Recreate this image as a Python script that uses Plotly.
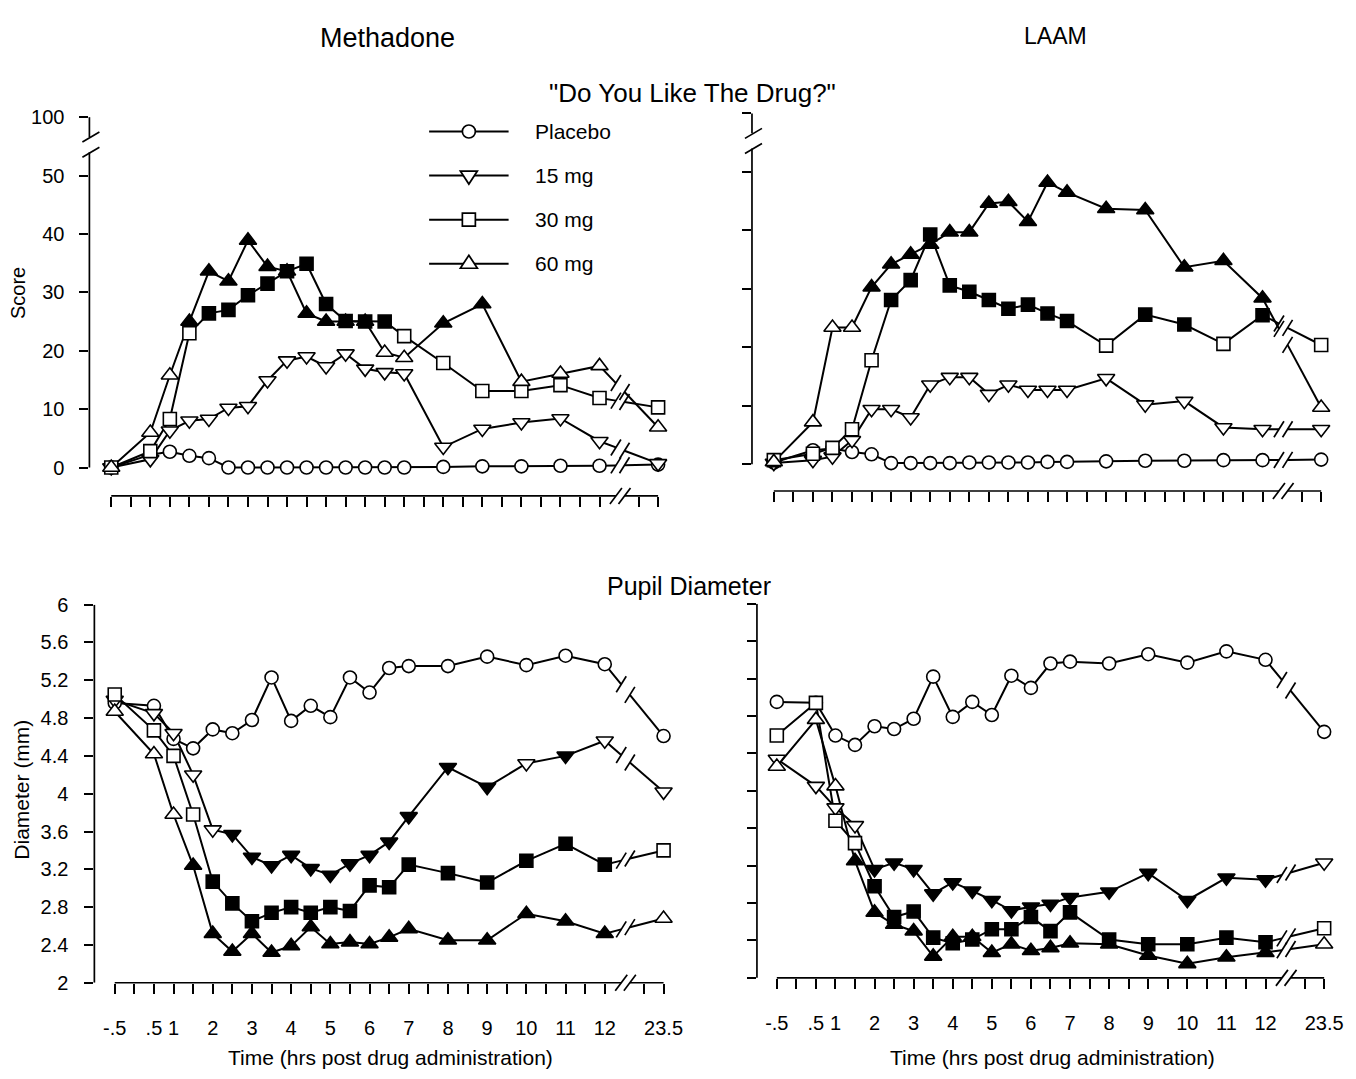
import plotly.graph_objects as go

W, H = 1356, 1079
FONT = "Liberation Sans, Arial, sans-serif"

# ---------------- data ----------------
TIMES = [-0.5, 0.5, 1, 1.5, 2, 2.5, 3, 3.5, 4, 4.5, 5, 5.5, 6, 6.5, 7, 8, 9, 10, 11, 12, 23.5]
TICK_TIMES = [-0.5, 0, 0.5, 1, 1.5, 2, 2.5, 3, 3.5, 4, 4.5, 5, 5.5, 6, 6.5, 7, 7.5,
              8, 8.5, 9, 9.5, 10, 10.5, 11, 11.5, 12, 23, 23.5]
TICK_LABELS = {-0.5: "-.5", 0.5: ".5", 1: "1", 2: "2", 3: "3", 4: "4", 5: "5", 6: "6",
               7: "7", 8: "8", 9: "9", 10: "10", 11: "11", 12: "12", 23.5: "23.5"}

SCORE_TICKS = [0, 10, 20, 30, 40, 50, 60]
SCORE_LABELS = ["0", "10", "20", "30", "40", "50", "100"]
DIAM_TICKS = [2, 2.4, 2.8, 3.2, 3.6, 4, 4.4, 4.8, 5.2, 5.6, 6]
DIAM_LABELS = ["2", "2.4", "2.8", "3.2", "3.6", "4", "4.4", "4.8", "5.2", "5.6", "6"]

SERIES = ["Placebo", "15 mg", "30 mg", "60 mg"]

# Methadone - "Do you like the drug?"
meth_like_placebo = [0, 2.2, 2.7, 2.0, 1.6, 0, 0, 0, 0, 0, 0, 0, 0, 0, 0, 0.1, 0.2, 0.2, 0.3, 0.3, 0.5]
meth_like_15 = [0, 1.4, 6.3, 8.0, 8.3, 10.2, 10.5, 14.9, 18.3, 19.0, 17.3, 19.5, 16.9, 16.3, 16.1, 3.5, 6.6, 7.7, 8.4, 4.5, 0.7]
meth_like_30 = [0, 2.8, 8.3, 23.0, 26.4, 27.0, 29.5, 31.5, 33.6, 34.9, 28.0, 25.1, 25.0, 25.0, 22.5, 17.9, 13.1, 13.1, 14.1, 11.9, 10.3]
meth_like_60 = [0, 6.0, 15.8, 25.0, 33.6, 31.9, 38.9, 34.4, 33.6, 26.4, 25.0, 25.0, 25.0, 19.7, 18.8, 24.7, 28.0, 14.7, 16.1, 17.4, 6.9]
meth_like_placebo_f = [0] * 21
meth_like_15_f = [0] * 21
meth_like_30_f = [0, 0, 0, 0, 1, 1, 1, 1, 1, 1, 1, 1, 1, 1, 0, 0, 0, 0, 0, 0, 0]
meth_like_60_f = [0, 0, 0, 1, 1, 1, 1, 1, 1, 1, 1, 1, 1, 0, 0, 1, 1, 0, 0, 0, 0]

# LAAM - "Do you like the drug?"
laam_like_placebo = [0.3, 2.4, 2.7, 2.1, 1.7, 0.2, 0.2, 0.2, 0.2, 0.3, 0.3, 0.3, 0.3, 0.4, 0.4, 0.5, 0.6, 0.6, 0.7, 0.7, 0.8]
laam_like_15 = [0.2, 0.7, 1.3, 4.1, 9.4, 9.4, 8.0, 13.6, 14.9, 14.9, 12.0, 13.6, 12.7, 12.7, 12.7, 14.7, 10.2, 10.8, 6.3, 6.0, 6.0]
laam_like_30 = [0.7, 1.8, 2.8, 6.0, 17.8, 28.1, 31.5, 39.3, 30.6, 29.5, 28.1, 26.6, 27.3, 25.8, 24.5, 20.3, 25.6, 23.9, 20.6, 25.5, 20.4]
laam_like_60 = [0.4, 7.2, 23.4, 23.4, 30.3, 34.2, 35.9, 37.6, 39.7, 39.7, 44.6, 44.9, 41.5, 48.2, 46.5, 43.7, 43.5, 33.7, 34.8, 28.4, 9.7]
laam_like_placebo_f = [0] * 21
laam_like_15_f = [0] * 21
laam_like_30_f = [0, 0, 0, 0, 0, 1, 1, 1, 1, 1, 1, 1, 1, 1, 1, 0, 1, 1, 0, 1, 0]
laam_like_60_f = [0, 0, 0, 0, 1, 1, 1, 1, 1, 1, 1, 1, 1, 1, 1, 1, 1, 1, 1, 1, 0]

# Methadone - pupil diameter (mm)
meth_pup_placebo = [4.96, 4.93, 4.58, 4.48, 4.68, 4.64, 4.78, 5.23, 4.77, 4.93, 4.81, 5.23, 5.07, 5.33, 5.35, 5.35, 5.45, 5.36, 5.46, 5.37, 4.61]
meth_pup_15 = [4.99, 4.85, 4.64, 4.20, 3.62, 3.57, 3.33, 3.24, 3.35, 3.21, 3.14, 3.26, 3.35, 3.49, 3.76, 4.28, 4.07, 4.32, 4.40, 4.56, 4.02]
meth_pup_30 = [5.05, 4.67, 4.40, 3.78, 3.07, 2.84, 2.65, 2.74, 2.80, 2.74, 2.80, 2.76, 3.03, 3.01, 3.25, 3.16, 3.06, 3.29, 3.47, 3.25, 3.40]
meth_pup_60 = [4.87, 4.42, 3.78, 3.24, 2.52, 2.33, 2.52, 2.32, 2.39, 2.59, 2.41, 2.43, 2.41, 2.48, 2.57, 2.45, 2.45, 2.73, 2.65, 2.52, 2.68]
meth_pup_placebo_f = [0] * 21
meth_pup_15_f = [0, 0, 0, 0, 0, 1, 1, 1, 1, 1, 1, 1, 1, 1, 1, 1, 1, 0, 1, 0, 0]
meth_pup_30_f = [0, 0, 0, 0, 1, 1, 1, 1, 1, 1, 1, 1, 1, 1, 1, 1, 1, 1, 1, 1, 0]
meth_pup_60_f = [0, 0, 0, 1, 1, 1, 1, 1, 1, 1, 1, 1, 1, 1, 1, 1, 1, 1, 1, 1, 0]

# LAAM - pupil diameter (mm)
laam_pup_placebo = [4.95, 4.94, 4.59, 4.49, 4.69, 4.66, 4.77, 5.22, 4.79, 4.95, 4.81, 5.23, 5.10, 5.36, 5.38, 5.36, 5.46, 5.37, 5.49, 5.40, 4.63]
laam_pup_15 = [4.34, 4.05, 3.82, 3.63, 3.16, 3.23, 3.16, 2.90, 3.02, 2.93, 2.83, 2.72, 2.76, 2.79, 2.86, 2.92, 3.12, 2.83, 3.07, 3.05, 3.23]
laam_pup_30 = [4.59, 4.94, 3.68, 3.44, 2.98, 2.65, 2.71, 2.43, 2.37, 2.41, 2.52, 2.52, 2.65, 2.50, 2.70, 2.41, 2.36, 2.36, 2.43, 2.38, 2.53]
laam_pup_60 = [4.26, 4.76, 4.05, 3.25, 2.70, 2.57, 2.50, 2.23, 2.44, 2.44, 2.27, 2.36, 2.29, 2.32, 2.37, 2.36, 2.24, 2.15, 2.22, 2.27, 2.36]
laam_pup_placebo_f = [0] * 21
laam_pup_15_f = [0, 0, 0, 0, 1, 1, 1, 1, 1, 1, 1, 1, 1, 1, 1, 1, 1, 1, 1, 1, 0]
laam_pup_30_f = [0, 0, 0, 0, 1, 1, 1, 1, 1, 1, 1, 1, 1, 1, 1, 1, 1, 1, 1, 1, 0]
laam_pup_60_f = [0, 0, 0, 1, 1, 1, 1, 1, 1, 1, 1, 1, 1, 1, 1, 1, 1, 1, 1, 1, 0]

# ---------------- styling ----------------
SYMBOLS = ["circle", "triangle-down", "square", "triangle-up"]
SIZES = [13, 15, 13, 15]
BREAK1, BREAK2 = 12.42, 12.64
TICKFONT = dict(family=FONT, size=20, color="black")


def pos(t):
    """Axis position: linear to 12 h, then a compressed break before 23-23.5 h."""
    return t if t <= 12 else t - 10


panels = [
    dict(key="", kind="score", left=True, bottom=False, ax_px=90, first_px=112, last_px=662.5,
         right_px=673, top_py=95, bottom_py=495, zero_py=466, scale=5.96,
         data=[meth_like_placebo, meth_like_15, meth_like_30, meth_like_60],
         flags=[meth_like_placebo_f, meth_like_15_f, meth_like_30_f, meth_like_60_f]),
    dict(key="2", kind="score", left=False, bottom=False, ax_px=757, first_px=779, last_px=1330,
         right_px=1340, top_py=95, bottom_py=490, zero_py=462.7, scale=5.968,
         data=[laam_like_placebo, laam_like_15, laam_like_30, laam_like_60],
         flags=[laam_like_placebo_f, laam_like_15_f, laam_like_30_f, laam_like_60_f]),
    dict(key="3", kind="pupil", left=True, bottom=True, ax_px=95, first_px=115.5, last_px=668,
         right_px=678, top_py=606, bottom_py=992,
         data=[meth_pup_placebo, meth_pup_15, meth_pup_30, meth_pup_60],
         flags=[meth_pup_placebo_f, meth_pup_15_f, meth_pup_30_f, meth_pup_60_f]),
    dict(key="4", kind="pupil", left=False, bottom=True, ax_px=762, first_px=782, last_px=1333,
         right_px=1343, top_py=605, bottom_py=987,
         data=[laam_pup_placebo, laam_pup_15, laam_pup_30, laam_pup_60],
         flags=[laam_pup_placebo_f, laam_pup_15_f, laam_pup_30_f, laam_pup_60_f]),
]

fig = go.Figure()
shapes = []
BL = dict(color="black", width=1.7)

for p in panels:
    k = p["key"]
    xa, ya = "x" + k, "y" + k
    slope = (p["last_px"] - p["first_px"]) / (pos(23.5) - pos(-0.5))
    xl = pos(-0.5) - (p["first_px"] - p["ax_px"]) / slope
    xr = pos(23.5) + (p["right_px"] - p["last_px"]) / slope
    if p["kind"] == "score":
        yr = [-(p["bottom_py"] - p["zero_py"]) / p["scale"], (p["zero_py"] - p["top_py"]) / p["scale"]]
        ytv, ytt = SCORE_TICKS, SCORE_LABELS
        ystand = 11
    else:
        yr = [2, 6]
        ytv, ytt = DIAM_TICKS, DIAM_LABELS
        ystand = 12

    xaxis = dict(domain=[p["ax_px"] / W, p["right_px"] / W], range=[xl, xr], anchor=ya,
                 showline=False, zeroline=False, showgrid=False, ticks="outside", ticklen=10,
                 tickwidth=1.7, tickcolor="black",
                 tickvals=[pos(t) for t in TICK_TIMES],
                 ticktext=[TICK_LABELS.get(t, "") for t in TICK_TIMES],
                 showticklabels=p["bottom"], ticklabelstandoff=17,
                 tickfont=TICKFONT, fixedrange=True)
    yaxis = dict(domain=[1 - p["bottom_py"] / H, 1 - p["top_py"] / H], range=yr, anchor=xa,
                 showline=False, zeroline=False, showgrid=False, ticks="outside", ticklen=9,
                 tickwidth=1.7, tickcolor="black", tickvals=ytv, ticktext=ytt,
                 showticklabels=p["left"], ticklabelstandoff=ystand,
                 tickfont=TICKFONT, fixedrange=True)
    fig.update_layout(**{"xaxis" + k: xaxis, "yaxis" + k: yaxis})

    # ---- axis lines with breaks ----
    yb_paper = 1 - p["bottom_py"] / H
    xax_paper = p["ax_px"] / W
    shapes.append(dict(type="line", xref=xa, yref="paper", x0=pos(-0.5), x1=BREAK1,
                       y0=yb_paper, y1=yb_paper, line=BL))
    shapes.append(dict(type="line", xref=xa, yref="paper", x0=BREAK2, x1=pos(23.5),
                       y0=yb_paper, y1=yb_paper, line=BL))
    for xb in (BREAK1, BREAK2):
        shapes.append(dict(type="line", xref=xa, yref="paper", xsizemode="pixel",
                           ysizemode="pixel", xanchor=xb, yanchor=yb_paper,
                           x0=-6, x1=6, y0=-8, y1=8, line=BL))
    if p["kind"] == "score":
        shapes.append(dict(type="line", xref="paper", yref=ya, x0=xax_paper, x1=xax_paper,
                           y0=0, y1=54.0, line=BL))
        shapes.append(dict(type="line", xref="paper", yref=ya, x0=xax_paper, x1=xax_paper,
                           y0=56.6, y1=60, line=BL))
        for yb in (54.0, 56.6):
            shapes.append(dict(type="line", xref="paper", yref=ya, xsizemode="pixel",
                               ysizemode="pixel", xanchor=xax_paper, yanchor=yb,
                               x0=-7, x1=10, y0=-5, y1=5, line=BL))
    else:
        shapes.append(dict(type="line", xref="paper", yref=ya, x0=xax_paper, x1=xax_paper,
                           y0=2, y1=6, line=BL))

    # ---- series ----
    xs = [pos(t) for t in TIMES]
    i12 = TIMES.index(12)
    for ys in p["data"]:
        y12, ylast = ys[i12], ys[-1]

        def interp(xb, y12=y12, ylast=ylast):
            return y12 + (ylast - y12) * (xb - pos(12)) / (pos(23.5) - pos(12))

        lx = xs[: i12 + 1] + [BREAK1, None, BREAK2, xs[-1]]
        ly = ys[: i12 + 1] + [interp(BREAK1), None, interp(BREAK2), ylast]
        fig.add_trace(go.Scatter(x=lx, y=ly, mode="lines", line=dict(color="black", width=2),
                                 xaxis=xa, yaxis=ya, showlegend=False, hoverinfo="skip",
                                 connectgaps=False))
        for xb in (BREAK1, BREAK2):
            shapes.append(dict(type="line", xref=xa, yref=ya, xsizemode="pixel",
                               ysizemode="pixel", xanchor=xb, yanchor=interp(xb),
                               x0=-5, x1=5, y0=-8, y1=8, line=BL))
    for name, ys, fl, sym, sz in zip(SERIES, p["data"], p["flags"], SYMBOLS, SIZES):
        fig.add_trace(go.Scatter(
            x=xs, y=ys, mode="markers", name=name, xaxis=xa, yaxis=ya, showlegend=False,
            marker=dict(symbol=sym, size=sz, color=["black" if f else "white" for f in fl],
                        line=dict(color="black", width=1.6)), cliponaxis=False))

# ---------------- legend (drawn) ----------------
LEG_ROWS = [123, 168, 213, 258]
for name, sym, py in zip(SERIES, SYMBOLS, LEG_ROWS):
    yp = 1 - py / H
    shapes.append(dict(type="line", xref="paper", yref="paper", x0=432 / W, x1=512 / W,
                       y0=yp, y1=yp, line=dict(color="black", width=2)))
    common = dict(xref="paper", yref="paper", xsizemode="pixel", ysizemode="pixel",
                  xanchor=472 / W, yanchor=yp, fillcolor="white", line=BL, layer="above")
    if sym == "circle":
        shapes.append(dict(type="circle", x0=-6.5, x1=6.5, y0=-6.5, y1=6.5, **common))
    elif sym == "square":
        shapes.append(dict(type="rect", x0=-6.5, x1=6.5, y0=-6.5, y1=6.5, **common))
    elif sym == "triangle-up":
        shapes.append(dict(type="path", path="M-8.5,-4.5 L8.5,-4.5 L0,8.5 Z", **common))
    else:
        shapes.append(dict(type="path", path="M-8.5,4.5 L8.5,4.5 L0,-8.5 Z", **common))

annotations = []
for name, py in zip(SERIES, LEG_ROWS):
    annotations.append(dict(text=name, x=537 / W, y=1 - py / H, xref="paper", yref="paper",
                            xanchor="left", yanchor="middle", showarrow=False,
                            font=dict(family=FONT, size=21, color="black")))


def txt(s, xp, yp, size, angle=0):
    annotations.append(dict(text=s, x=xp / W, y=1 - yp / H, xref="paper", yref="paper",
                            xanchor="center", yanchor="middle", showarrow=False,
                            textangle=angle, font=dict(family=FONT, size=size, color="black")))


txt("Methadone", 390, 28, 27)
txt("LAAM", 1063, 26, 23)
txt('"Do You Like The Drug?"', 697, 84, 26)
txt("Pupil Diameter", 694, 587, 25)
txt("Score", 18, 288, 20, -90)
txt("Diameter (mm)", 22, 795, 21, -90)
txt("Time (hrs post drug administration)", 393, 1068, 21)
txt("Time (hrs post drug administration)", 1060, 1068, 21)

fig.update_layout(width=W, height=H, margin=dict(l=0, r=0, t=0, b=0),
                  paper_bgcolor="white", plot_bgcolor="white", showlegend=False,
                  shapes=shapes, annotations=annotations,
                  font=dict(family=FONT, color="black"))

fig.write_html("out.html")
